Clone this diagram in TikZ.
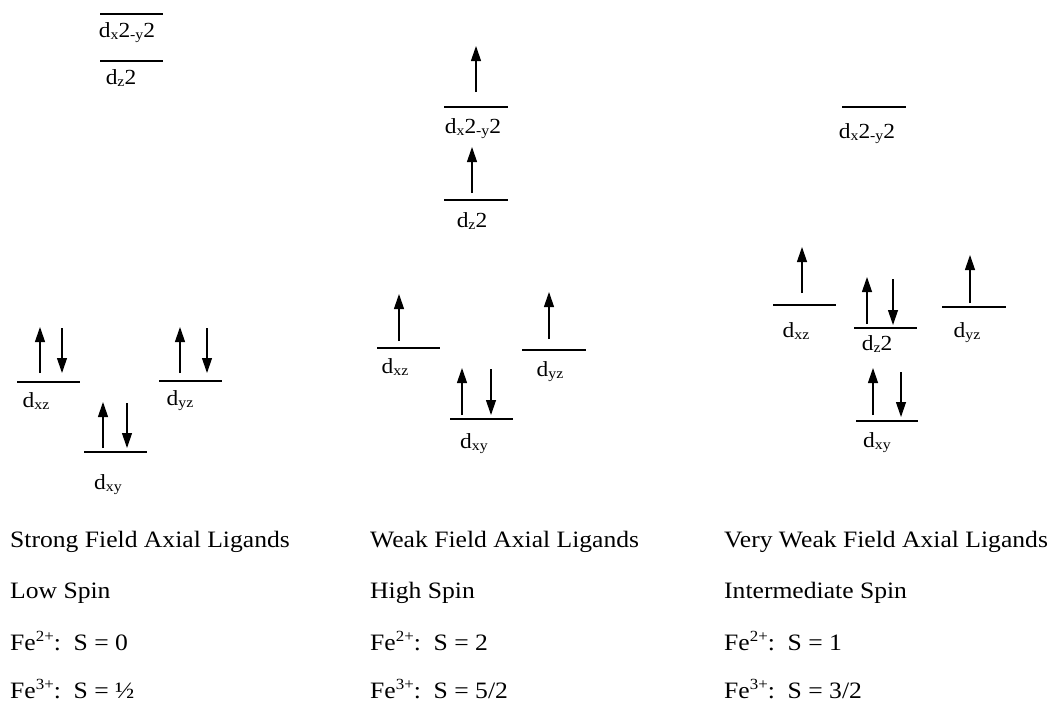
\documentclass[tikz,border=0pt]{standalone}
\usepackage{fontspec}
\setmainfont[FakeStretch=1.09]{Liberation Serif}
\usetikzlibrary{arrows.meta}
\newcommand\lo[1]{\raisebox{-0.3ex}{\fontsize{14.5}{14.5}\selectfont #1}}
\newcommand\hi[1]{\raisebox{0.8ex}{\fontsize{15.5}{15.5}\selectfont #1}}
\newcommand\level[4]{%
  \coordinate (#1-l) at (#2,#4); \coordinate (#1-r) at (#3,#4);
  \draw[lvl] (#1-l) -- (#1-r);}
\newcommand\spin[4]{%
  \coordinate (#1-s) at (#2,#3); \coordinate (#1-e) at (#2,#4);
  \draw[spinarrow] (#1-s) -- (#1-e);}
\begin{document}
\begin{tikzpicture}[x=1pt,y=-1pt,
  lvl/.style={line width=1.3pt},
  spinarrow/.style={line width=1.2pt,-{Triangle[length=15pt,width=10pt]}},
  lab/.style={font=\fontsize{21.5}{21.5}\selectfont,inner sep=0pt,anchor=base},
  txt/.style={font=\fontsize{23.5}{23.5}\selectfont,inner sep=0pt,anchor=base west}]
\useasboundingbox (0,0) rectangle (1055,705);

% ---------- Strong field (left) ----------
\level{Lx2}{100}{163}{14}
\node[lab] (Lx2-lab) at (127,37) {d\lo{x}2\lo{-y}2};
\level{Lz2}{100}{163}{61}
\node[lab] (Lz2-lab) at (121,84) {d\lo{z}2};
\level{Lxz}{17}{80}{382}
\node[lab] (Lxz-lab) at (36,407) {d\lo{xz}};
\spin{Lxz1}{40}{373}{327}
\spin{Lxz2}{62}{328}{373}
\level{Lyz}{159}{222}{381}
\node[lab] (Lyz-lab) at (180,405) {d\lo{yz}};
\spin{Lyz1}{180}{373}{327}
\spin{Lyz2}{207}{328}{373}
\level{Lxy}{84}{147}{452}
\node[lab] (Lxy-lab) at (108,489) {d\lo{xy}};
\spin{Lxy1}{103}{448}{402}
\spin{Lxy2}{127}{403}{448}

% ---------- Weak field (middle) ----------
\level{Mx2}{444}{508}{107}
\node[lab] (Mx2-lab) at (473,133) {d\lo{x}2\lo{-y}2};
\spin{Mx21}{476}{92}{46}
\level{Mz2}{444}{508}{200}
\node[lab] (Mz2-lab) at (472,227) {d\lo{z}2};
\spin{Mz21}{472}{193}{147}
\level{Mxz}{377}{440}{348}
\node[lab] (Mxz-lab) at (395,373) {d\lo{xz}};
\spin{Mxz1}{399}{341}{294}
\level{Myz}{522}{586}{350}
\node[lab] (Myz-lab) at (550,376) {d\lo{yz}};
\spin{Myz1}{549}{339}{292}
\level{Mxy}{450}{513}{419}
\node[lab] (Mxy-lab) at (474,448) {d\lo{xy}};
\spin{Mxy1}{462}{415}{368}
\spin{Mxy2}{491}{369}{415}

% ---------- Very weak field (right) ----------
\level{Rx2}{842}{906}{107}
\node[lab] (Rx2-lab) at (867,138) {d\lo{x}2\lo{-y}2};
\level{Rxz}{773}{836}{305}
\node[lab] (Rxz-lab) at (796,337) {d\lo{xz}};
\spin{Rxz1}{802}{293}{247}
\level{Rz2}{854}{917}{328}
\node[lab] (Rz2-lab) at (877,350) {d\lo{z}2};
\spin{Rz21}{867}{324}{277}
\spin{Rz22}{893}{279}{325}
\level{Ryz}{942}{1006}{307}
\node[lab] (Ryz-lab) at (967,337) {d\lo{yz}};
\spin{Ryz1}{970}{303}{255}
\level{Rxy}{856}{918}{421}
\node[lab] (Rxy-lab) at (877,447) {d\lo{xy}};
\spin{Rxy1}{873}{415}{368}
\spin{Rxy2}{901}{372}{417}

% ---------- captions ----------
\node[txt] (c11) at (10,547) {Strong Field Axial Ligands};
\node[txt] (c12) at (10,598) {Low Spin};
\node[txt] (c13) at (10,650) {Fe\hi{2+}:\ \ S = 0};
\node[txt] (c14) at (10,698) {Fe\hi{3+}:\ \ S = ½};
\node[txt] (c21) at (370,547) {Weak Field Axial Ligands};
\node[txt] (c22) at (370,598) {High Spin};
\node[txt] (c23) at (370,650) {Fe\hi{2+}:\ \ S = 2};
\node[txt] (c24) at (370,698) {Fe\hi{3+}:\ \ S = 5/2};
\node[txt] (c31) at (724,547) {Very Weak Field Axial Ligands};
\node[txt] (c32) at (724,598) {Intermediate Spin};
\node[txt] (c33) at (724,650) {Fe\hi{2+}:\ \ S = 1};
\node[txt] (c34) at (724,698) {Fe\hi{3+}:\ \ S = 3/2};
\end{tikzpicture}
\end{document}
